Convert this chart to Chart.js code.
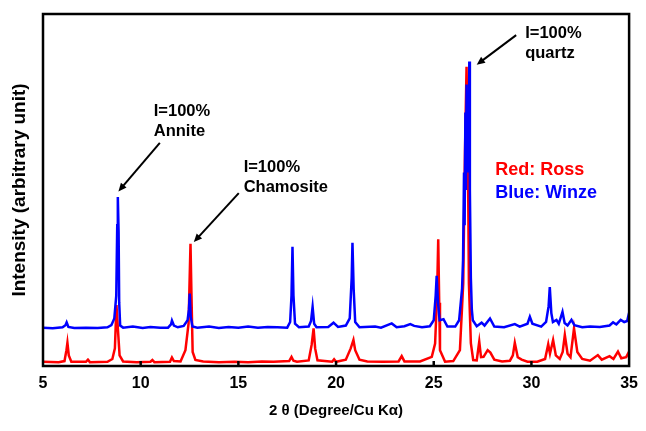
<!DOCTYPE html>
<html lang="en">
<head>
    <meta charset="UTF-8">
    <title>XRD Ross vs Winze</title>
    <script src="https://cdn.jsdelivr.net/npm/chart.js"></script>
    <style>
        body {
            margin: 0;
            background: #fff;
        }
        .wrap {
            width: 646px;
            height: 431px;
        }
    </style>
</head>
<body>
    <div class="wrap"><canvas id="xrd"></canvas></div>

    <script>
        // 2-theta positions and intensities (arbitrary units, 0-100)
        const rossTheta = [5.0, 5.8, 6.1, 6.2, 6.25, 6.32, 6.45, 7.2, 7.3, 7.4, 8.3, 8.55, 8.68, 8.76, 8.84, 8.92, 9.1,
            9.8, 10.5, 10.6, 10.7, 11.5, 11.6, 11.7, 12.04, 12.29, 12.45, 12.55, 12.6, 12.66, 12.8, 13.2, 14.0, 14.8, 15.5,
            16.2, 16.8, 17.6, 17.72, 17.82, 18.0, 18.6, 18.75, 18.85, 18.93, 19.05, 19.8, 19.9, 20.0, 20.5, 20.75, 20.89,
            20.98, 21.2, 21.6, 22.4, 23.2, 23.36, 23.5, 24.3, 24.9, 25.07, 25.17, 25.23, 25.28, 25.32, 25.58, 26.0,
            26.34, 26.51, 26.6, 26.68, 26.76, 26.8, 26.9, 27.02, 27.2, 27.33, 27.42, 27.55, 27.76, 27.9, 28.1, 28.5,
            28.9, 29.05, 29.15, 29.3, 29.5, 29.8, 30.3, 30.7, 30.86, 30.95, 31.11, 31.25, 31.45, 31.6, 31.71, 31.85,
            32.0, 32.18, 32.35, 32.6, 33.0, 33.4, 33.6, 34.0, 34.2, 34.43, 34.6, 34.85, 35.0];
        const rossInt = [1.2, 1.1, 1.4, 4.5, 6.6, 3.0, 1.2, 1.2, 1.8, 1.1, 1.2, 2.0, 5.0, 17.3, 10.0, 3.0, 1.3,
            1.1, 1.2, 1.7, 1.1, 1.2, 2.4, 1.4, 1.3, 4.5, 12.0, 34.7, 20.0, 4.0, 1.7, 1.3, 1.1, 1.2, 1.1,
            1.3, 1.2, 1.4, 2.6, 1.5, 1.2, 1.6, 6.0, 10.7, 5.0, 1.6, 1.2, 1.9, 1.2, 1.8, 5.0, 7.4,
            4.5, 1.8, 1.3, 1.2, 1.3, 2.8, 1.3, 1.3, 2.6, 6.4, 20.0, 36.0, 18.0, 4.5, 1.2, 1.4,
            4.5, 23.5, 61.0, 85.0, 52.0, 23.5, 6.5, 1.7, 1.6, 6.9, 2.5, 2.6, 4.5, 3.8, 1.8, 1.3,
            1.5, 3.0, 6.6, 2.5, 1.8, 1.2, 1.2, 2.0, 6.2, 3.5, 7.4, 3.0, 2.0, 4.0, 8.8, 3.5,
            2.5, 10.7, 4.0, 2.0, 1.5, 3.1, 1.8, 2.8, 2.0, 4.1, 2.2, 2.5, 4.1];

        const winzeTheta = [5.0, 5.5, 6.0, 6.15, 6.21, 6.3, 6.6, 7.2, 7.8, 8.3, 8.5, 8.65, 8.75, 8.8, 8.83, 8.87, 8.9,
            8.95, 9.1, 9.6, 10.1, 10.5, 11.0, 11.4, 11.55, 11.6, 11.7, 11.9, 12.2, 12.4, 12.47, 12.51, 12.56, 12.65,
            12.9, 13.5, 14.0, 14.5, 15.0, 15.5, 16.0, 16.5, 17.0,
            17.5, 17.65, 17.72, 17.77, 17.82, 17.9, 18.1, 18.6, 18.72, 18.8, 18.88, 19.0, 19.6, 19.87, 20.1, 20.5,
            20.7, 20.8, 20.84, 20.9, 20.98, 21.2, 22.0, 22.3, 22.85, 23.1, 23.5, 23.8, 24.0, 24.4, 24.8, 25.0,
            25.1, 25.15, 25.22, 25.3, 25.5, 25.7, 26.1, 26.3, 26.45, 26.5, 26.55, 26.58, 26.62, 26.65, 26.68, 26.72,
            26.76, 26.8, 26.82, 26.85, 26.9, 26.95,
            27.0, 27.2, 27.45, 27.6, 27.88, 28.1, 28.6, 29.15, 29.4, 29.8, 29.92, 30.05, 30.5, 30.75, 30.88, 30.94,
            31.02, 31.1, 31.28, 31.4, 31.59, 31.7, 31.85, 32.05, 32.2, 32.6, 33.0, 33.5, 34.0, 34.18, 34.35, 34.57,
            34.75, 34.9, 35.0];
        const winzeInt = [10.9, 10.7, 11.0, 11.6, 12.4, 11.1, 10.8, 10.9, 10.8, 11.0, 11.6, 13.5, 20.0, 40.0, 48.0, 38.0, 18.0,
            11.5, 10.9, 11.2, 10.8, 11.1, 10.9, 10.9, 11.8, 12.9, 11.5, 11.0, 11.4, 13.0, 16.0, 20.6, 14.0, 11.2,
            10.9, 11.2, 10.8, 11.1, 10.9, 11.2, 10.9, 11.1, 11.0,
            10.9, 12.5, 20.0, 33.9, 20.0, 12.0, 11.0, 11.2, 12.8, 16.8, 12.0, 11.0, 11.1, 12.3, 11.1, 11.5,
            13.5, 25.0, 35.0, 22.0, 12.5, 11.0, 11.2, 10.9, 12.1, 11.0, 11.3, 11.9, 11.4, 11.0, 11.3, 13.0,
            20.0, 25.6, 18.0, 13.0, 13.3, 11.2, 11.2, 13.0, 22.0, 30.0, 55.0, 40.0, 72.0, 50.0, 80.0, 55.0,
            75.0, 60.0, 86.5, 50.0, 25.0, 16.0,
            13.0, 11.3, 12.3, 11.5, 13.5, 11.2, 11.0, 11.9, 11.2, 12.0, 14.0, 12.0, 11.2, 12.5, 17.0, 22.4,
            15.0, 12.5, 13.1, 12.0, 15.4, 12.2, 11.5, 13.1, 11.6, 11.0, 11.2, 11.1, 11.5, 12.4, 11.8, 13.1,
            12.5, 12.8, 15.1];

        const xTicks = [5, 10, 15, 20, 25, 30, 35];

        // peak labels: [text lines, text x, first line y, arrow tail x, y, arrow head x, y] in data units
        const notes = [
            [['I=100%', 'Annite'], 10.67, 72.4, 10.98, 63.4, 8.86, 49.6],
            [['I=100%', 'Chamosite'], 15.27, 56.3, 15.02, 49.1, 12.72, 35.2],
            [['I=100%', 'quartz'], 29.68, 94.6, 29.22, 94.0, 27.2, 85.6]
        ];

        const pts = (xs, ys) => xs.map((x, i) => ({ x: x, y: ys[i] }));

        Chart.defaults.font.family = '"Liberation Sans", Arial, sans-serif';
        Chart.defaults.color = '#000';

        function arrow(ctx, x1, y1, x2, y2) {
            const a = Math.atan2(y2 - y1, x2 - x1);
            const len = 9;
            ctx.beginPath();
            ctx.moveTo(x1, y1);
            ctx.lineTo(x2 - Math.cos(a) * 6, y2 - Math.sin(a) * 6);
            ctx.stroke();
            ctx.beginPath();
            ctx.moveTo(x2, y2);
            ctx.lineTo(x2 - len * Math.cos(a - 0.42), y2 - len * Math.sin(a - 0.42));
            ctx.lineTo(x2 - len * Math.cos(a + 0.42), y2 - len * Math.sin(a + 0.42));
            ctx.closePath();
            ctx.fill();
        }

        const decor = {
            id: 'decor',
            afterDraw(chart) {
                const ctx = chart.ctx;
                const xs = chart.scales.x, ys = chart.scales.y;
                const area = chart.chartArea;
                ctx.save();

                // inward tick marks on the bottom edge
                ctx.strokeStyle = '#000';
                ctx.lineWidth = 2.5;
                xTicks.slice(1, -1).forEach(t => {
                    const px = xs.getPixelForValue(t);
                    ctx.beginPath();
                    ctx.moveTo(px, area.bottom);
                    ctx.lineTo(px, area.bottom - 5);
                    ctx.stroke();
                });

                // frame
                ctx.lineWidth = 2.5;
                ctx.strokeRect(area.left, area.top, area.right - area.left, area.bottom - area.top);

                // peak notes
                ctx.fillStyle = '#000';
                ctx.lineWidth = 2;
                ctx.font = 'bold 16.5px "Liberation Sans", Arial, sans-serif';
                ctx.textBaseline = 'middle';
                ctx.textAlign = 'left';
                notes.forEach(n => {
                    const tx = xs.getPixelForValue(n[1]);
                    const ty = ys.getPixelForValue(n[2]);
                    n[0].forEach((line, i) => ctx.fillText(line, tx, ty + i * 20));
                    arrow(ctx, xs.getPixelForValue(n[3]), ys.getPixelForValue(n[4]),
                        xs.getPixelForValue(n[5]), ys.getPixelForValue(n[6]));
                });

                // sample key
                ctx.font = 'bold 18px "Liberation Sans", Arial, sans-serif';
                ctx.fillStyle = '#ff0000';
                ctx.fillText('Red: Ross', xs.getPixelForValue(28.15), ys.getPixelForValue(55.7));
                ctx.fillStyle = '#0000ff';
                ctx.fillText('Blue: Winze', xs.getPixelForValue(28.15), ys.getPixelForValue(49.1));
                ctx.restore();
            }
        };

        new Chart(document.getElementById('xrd'), {
            type: 'line',
            data: {
                datasets: [{
                    label: 'Winze',
                    data: pts(winzeTheta, winzeInt),
                    borderColor: '#0000ff',
                    borderWidth: 2.5,
                    pointRadius: 0,
                    tension: 0,
                    order: 0
                }, {
                    label: 'Ross',
                    data: pts(rossTheta, rossInt),
                    borderColor: '#ff0000',
                    borderWidth: 2.5,
                    pointRadius: 0,
                    tension: 0,
                    order: 1
                }]
            },
            options: {
                responsive: true,
                maintainAspectRatio: false,
                animation: false,
                layout: { padding: { top: 14, right: 14, left: 0, bottom: 0 } },
                plugins: {
                    legend: { display: false },
                    tooltip: { enabled: false }
                },
                scales: {
                    x: {
                        type: 'linear',
                        min: 5,
                        max: 35,
                        afterFit: s => { s.height = 65; },
                        afterBuildTicks: s => { s.ticks = xTicks.map(v => ({ value: v })); },
                        grid: { display: false, drawTicks: false },
                        border: { display: false },
                        ticks: { padding: 8, font: { size: 16, weight: 'bold' }, maxRotation: 0 },
                        title: {
                            display: true,
                            text: '2 θ (Degree/Cu Kα)',
                            font: { size: 15, weight: 'bold' },
                            padding: { top: 0, bottom: 11 }
                        }
                    },
                    y: {
                        min: 0,
                        max: 100,
                        afterFit: s => { s.width = 43; },
                        grid: { display: false, drawTicks: false },
                        border: { display: false },
                        ticks: { display: false },
                        title: {
                            display: true,
                            text: 'Intensity (arbitrary unit)',
                            font: { size: 19, weight: 'bold' },
                            padding: { top: 8, bottom: 0 }
                        }
                    }
                }
            },
            plugins: [decor]
        });
    </script>
</body>
</html>
